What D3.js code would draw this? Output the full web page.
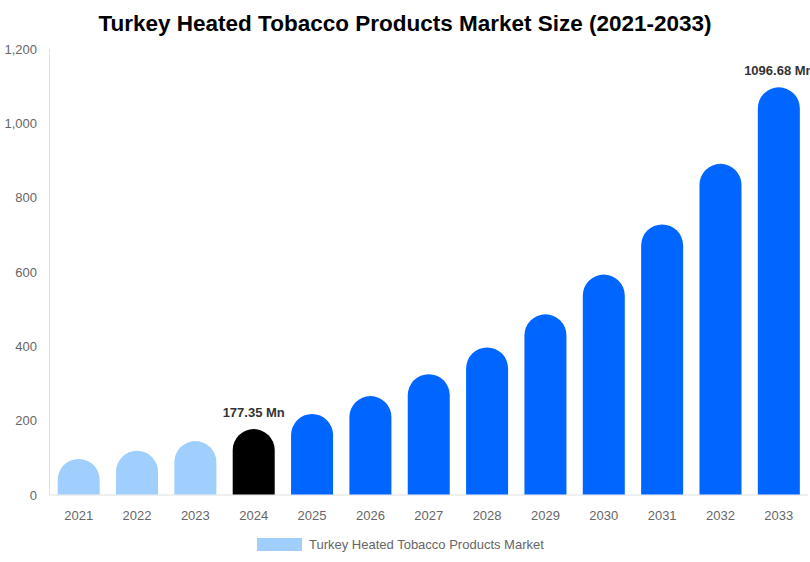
<!DOCTYPE html>
<html>
<head>
<meta charset="utf-8">
<script src="https://cdn.jsdelivr.net/npm/d3@7"></script>
<style>
  body { margin: 0; background: #fff; font-family: "Liberation Sans", Arial, sans-serif; }
  svg { display: block; }
</style>
</head>
<body>
<script>
// Chart data
var years = ["2021", "2022", "2023", "2024", "2025", "2026", "2027", "2028", "2029", "2030", "2031", "2032", "2033"];
var values = [97, 119, 145, 177.35, 218, 266, 325, 397, 486, 593, 728, 891, 1096.68];
var yTicks = [0, 200, 400, 600, 800, 1000, 1200];
var labelled = { "2024": "177.35 Mn", "2033": "1096.68 Mn" };

var w = 810, h = 562;
var plotLeft = 49.5, plotRight = 808, plotTop = 49, plotBottom = 495;

var svg = d3.select("body").append("svg")
    .attr("width", w)
    .attr("height", h);

// Title
svg.append("text")
    .attr("x", w / 2)
    .attr("y", 31)
    .attr("text-anchor", "middle")
    .attr("font-size", "22.5px")
    .attr("font-weight", "bold")
    .attr("fill", "#000")
    .text("Turkey Heated Tobacco Products Market Size (2021-2033)");

var xScale = d3.scaleBand()
    .domain(years)
    .range([plotLeft, plotRight])
    .paddingInner(0.28)
    .paddingOuter(0.14);

var yScale = d3.scaleLinear()
    .domain([0, 1200])
    .range([plotBottom, plotTop]);

// Y axis labels
svg.selectAll(".ytick")
    .data(yTicks)
    .enter()
    .append("text")
    .attr("class", "ytick")
    .attr("x", 37)
    .attr("y", function(d) { return yScale(d) + 4.5; })
    .attr("text-anchor", "end")
    .attr("font-size", "13px")
    .attr("fill", "#666")
    .text(d3.format(","));

// Axis lines
svg.append("line")
    .attr("x1", plotLeft).attr("x2", plotLeft)
    .attr("y1", plotTop).attr("y2", plotBottom)
    .attr("stroke", "#e0e0e0");
svg.append("line")
    .attr("x1", plotLeft).attr("x2", plotRight)
    .attr("y1", plotBottom).attr("y2", plotBottom)
    .attr("stroke", "#e0e0e0");

function barColor(i) {
    if (years[i] < "2024") return "#a0cefd";
    if (years[i] === "2024") return "#000000";
    return "#0066ff";
}

// Bars with fully rounded tops
var bw = xScale.bandwidth();
svg.selectAll(".bar")
    .data(values)
    .enter()
    .append("path")
    .attr("class", "bar")
    .attr("fill", function(d, i) { return barColor(i); })
    .attr("d", function(d, i) {
        var x0 = xScale(years[i]), r = bw / 2;
        var yTop = yScale(d);
        var yb = plotBottom - 0.5;
        var p = d3.path();
        p.moveTo(x0, yb);
        p.lineTo(x0, yTop + r);
        p.arc(x0 + r, yTop + r, r, Math.PI, 0);
        p.lineTo(x0 + bw, yb);
        p.closePath();
        return p.toString();
    });

// X labels
svg.selectAll(".xtick")
    .data(years)
    .enter()
    .append("text")
    .attr("class", "xtick")
    .attr("x", function(d) { return xScale(d) + bw / 2; })
    .attr("y", 520)
    .attr("text-anchor", "middle")
    .attr("font-size", "13px")
    .attr("fill", "#666")
    .text(function(d) { return d; });

// Value labels
svg.selectAll(".vlabel")
    .data(years.filter(function(d) { return labelled[d]; }))
    .enter()
    .append("text")
    .attr("class", "vlabel")
    .attr("x", function(d) { return xScale(d) + bw / 2; })
    .attr("y", function(d) { return yScale(values[years.indexOf(d)]) - 12; })
    .attr("text-anchor", "middle")
    .attr("font-size", "13px")
    .attr("font-weight", "bold")
    .attr("fill", "#333")
    .text(function(d) { return labelled[d]; });

// Legend
svg.append("rect")
    .attr("x", 257).attr("y", 538)
    .attr("width", 45).attr("height", 13)
    .attr("fill", "#a0cefd");
svg.append("text")
    .attr("x", 309).attr("y", 549)
    .attr("font-size", "13px")
    .attr("fill", "#666")
    .text("Turkey Heated Tobacco Products Market");
</script>
</body>
</html>
